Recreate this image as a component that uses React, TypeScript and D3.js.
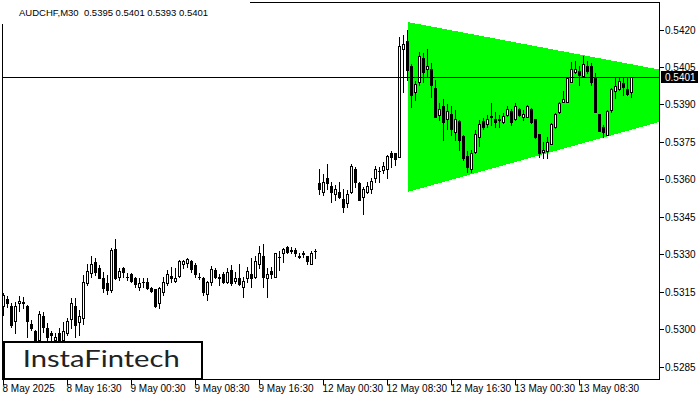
import React from "react";
import * as d3 from "d3";

const symbolName = "AUDCHF,M30";
const headerOhlc = ["0.5395", "0.5401", "0.5393", "0.5401"];
const timeLabels = ["8 May 2025", "8 May 16:30", "9 May 00:30", "9 May 08:30", "9 May 16:30", "12 May 00:30", "12 May 08:30", "12 May 16:30", "13 May 00:30", "13 May 08:30"];
const timeLabelBars = [0, 16, 32, 48, 64, 80, 96, 112, 128, 144];
const priceTicks = [0.5285, 0.53, 0.5315, 0.533, 0.5345, 0.536, 0.5375, 0.539, 0.5405, 0.542];
const bidPrice = 0.5401;
const triangleBars = [101, 192, 101];
const trianglePrices = [0.5423, 0.53955, 0.5355];
const logoText = "InstaFintech";

const opens = [
  0.53094, 0.53122, 0.53094, 0.53034, 0.53106, 0.53106, 0.53094, 0.53022, 0.52994, 0.52958,
  0.53054, 0.53006, 0.52986, 0.52958, 0.52986, 0.52958, 0.52986, 0.53042, 0.53094, 0.53030,
  0.53046, 0.53186, 0.53226, 0.53270, 0.53246, 0.53206, 0.53186, 0.53158, 0.53322, 0.53210,
  0.53246, 0.53210, 0.53222, 0.53206, 0.53170, 0.53190, 0.53190, 0.53166, 0.53162, 0.53106,
  0.53150, 0.53186, 0.53214, 0.53194, 0.53214, 0.53262, 0.53266, 0.53274, 0.53258, 0.53210,
  0.53206, 0.53142, 0.53190, 0.53238, 0.53208, 0.53222, 0.53190, 0.53238, 0.53194, 0.53206,
  0.53170, 0.53206, 0.53222, 0.53210, 0.53262, 0.53294, 0.53206, 0.53234, 0.53210, 0.53290,
  0.53306, 0.53330, 0.53318, 0.53318, 0.53294, 0.53306, 0.53294, 0.53262, 0.53314,
  0.53586, 0.53550, 0.53606, 0.53574, 0.53542, 0.53550, 0.53522, 0.53506, 0.53550, 0.53642, 0.53586,
  0.53530, 0.53550, 0.53562, 0.53606, 0.53634, 0.53638, 0.53642, 0.53706, 0.53706, 0.53690,
  0.54122, 0.54154, 0.54054, 0.53950, 0.53990, 0.54086, 0.54042, 0.54042, 0.53966, 0.53858,
  0.53894, 0.53842, 0.53862, 0.53790, 0.53834, 0.53774, 0.53694, 0.53642, 0.53710, 0.53770,
  0.53834, 0.53822, 0.53854, 0.53842, 0.53842, 0.53830, 0.53858, 0.53874, 0.53842, 0.53882,
  0.53850, 0.53850, 0.53882, 0.53842, 0.53782, 0.53710, 0.53714, 0.53742, 0.53810, 0.53870,
  0.53910, 0.53910, 0.53990, 0.54030, 0.54034, 0.54014, 0.54054, 0.54054, 0.54006, 0.53862,
  0.53810, 0.53778, 0.53878, 0.53954, 0.53962, 0.53986, 0.53962, 0.53950,
];
const highs = [
  0.53146, 0.53134, 0.53106, 0.53110, 0.53134, 0.53130, 0.53098, 0.53038, 0.52998, 0.53074,
  0.53070, 0.53026, 0.52994, 0.52986, 0.53006, 0.53030, 0.53046, 0.53126, 0.53126, 0.53078,
  0.53218, 0.53262, 0.53294, 0.53286, 0.53258, 0.53230, 0.53218, 0.53326, 0.53362, 0.53246,
  0.53250, 0.53226, 0.53226, 0.53210, 0.53206, 0.53206, 0.53206, 0.53170, 0.53162, 0.53170,
  0.53210, 0.53238, 0.53250, 0.53246, 0.53278, 0.53278, 0.53286, 0.53278, 0.53266, 0.53226,
  0.53210, 0.53194, 0.53254, 0.53246, 0.53222, 0.53230, 0.53246, 0.53258, 0.53230, 0.53262,
  0.53210, 0.53250, 0.53286, 0.53294, 0.53334, 0.53342, 0.53246, 0.53250, 0.53306, 0.53314,
  0.53326, 0.53334, 0.53330, 0.53326, 0.53306, 0.53314, 0.53294, 0.53314, 0.53322,
  0.53642, 0.53622, 0.53662, 0.53590, 0.53578, 0.53590, 0.53562, 0.53558, 0.53662, 0.53650, 0.53590,
  0.53570, 0.53590, 0.53606, 0.53654, 0.53650, 0.53670, 0.53698, 0.53714, 0.53706, 0.54170,
  0.54178, 0.54198, 0.54062, 0.53994, 0.54110, 0.54106, 0.54122, 0.54066, 0.53998, 0.53906,
  0.53922, 0.53902, 0.53894, 0.53878, 0.53838, 0.53778, 0.53714, 0.53718, 0.53798, 0.53838,
  0.53846, 0.53858, 0.53906, 0.53870, 0.53858, 0.53866, 0.53894, 0.53882, 0.53906, 0.53886,
  0.53878, 0.53898, 0.53886, 0.53842, 0.53782, 0.53750, 0.53770, 0.53826, 0.53866, 0.53910,
  0.53954, 0.54010, 0.54070, 0.54074, 0.54054, 0.54094, 0.54074, 0.54066, 0.54026, 0.53862,
  0.53818, 0.53878, 0.53966, 0.54006, 0.54006, 0.54006, 0.54006, 0.54010,
];
const lows = [
  0.53058, 0.53090, 0.53010, 0.52986, 0.53074, 0.53086, 0.52970, 0.52998, 0.52954, 0.52954,
  0.52990, 0.52958, 0.52958, 0.52950, 0.52950, 0.52950, 0.52978, 0.53006, 0.52970, 0.52978,
  0.53022, 0.53178, 0.53210, 0.53218, 0.53206, 0.53150, 0.53142, 0.53150, 0.53202, 0.53198,
  0.53210, 0.53198, 0.53190, 0.53170, 0.53158, 0.53170, 0.53162, 0.53150, 0.53090, 0.53086,
  0.53138, 0.53178, 0.53190, 0.53190, 0.53210, 0.53246, 0.53250, 0.53230, 0.53210, 0.53202,
  0.53138, 0.53118, 0.53178, 0.53206, 0.53178, 0.53186, 0.53186, 0.53178, 0.53186, 0.53178,
  0.53130, 0.53190, 0.53170, 0.53206, 0.53246, 0.53170, 0.53130, 0.53206, 0.53210, 0.53238,
  0.53270, 0.53306, 0.53306, 0.53294, 0.53286, 0.53290, 0.53262, 0.53262, 0.53286,
  0.53542, 0.53538, 0.53562, 0.53510, 0.53518, 0.53526, 0.53470, 0.53490, 0.53546, 0.53570, 0.53518,
  0.53462, 0.53546, 0.53546, 0.53590, 0.53590, 0.53626, 0.53606, 0.53650, 0.53658, 0.53690,
  0.53950, 0.53998, 0.53890, 0.53918, 0.53978, 0.53990, 0.54014, 0.53930, 0.53850, 0.53838,
  0.53758, 0.53802, 0.53778, 0.53758, 0.53718, 0.53678, 0.53630, 0.53630, 0.53706, 0.53734,
  0.53802, 0.53810, 0.53818, 0.53810, 0.53810, 0.53826, 0.53854, 0.53818, 0.53838, 0.53854,
  0.53838, 0.53850, 0.53826, 0.53766, 0.53690, 0.53686, 0.53686, 0.53742, 0.53806, 0.53866,
  0.53910, 0.53910, 0.53990, 0.54026, 0.53978, 0.54010, 0.54026, 0.53978, 0.53870, 0.53794,
  0.53770, 0.53778, 0.53870, 0.53926, 0.53958, 0.53938, 0.53938, 0.53930,
];
const closes = [
  0.53138, 0.53106, 0.53018, 0.53094, 0.53114, 0.53110, 0.53034, 0.53006, 0.52958, 0.53062,
  0.53010, 0.52970, 0.52978, 0.52970, 0.52958, 0.52994, 0.53034, 0.53106, 0.53018, 0.53054,
  0.53190, 0.53234, 0.53262, 0.53230, 0.53206, 0.53166, 0.53158, 0.53318, 0.53206, 0.53234,
  0.53230, 0.53208, 0.53194, 0.53182, 0.53186, 0.53188, 0.53166, 0.53154, 0.53094, 0.53166,
  0.53190, 0.53222, 0.53206, 0.53206, 0.53274, 0.53274, 0.53282, 0.53242, 0.53222, 0.53208,
  0.53150, 0.53190, 0.53242, 0.53210, 0.53210, 0.53190, 0.53230, 0.53186, 0.53206, 0.53182,
  0.53194, 0.53234, 0.53206, 0.53274, 0.53306, 0.53210, 0.53222, 0.53222, 0.53306, 0.53288,
  0.53322, 0.53310, 0.53316, 0.53306, 0.53292, 0.53304, 0.53274, 0.53306, 0.53312,
  0.53562, 0.53590, 0.53586, 0.53550, 0.53562, 0.53530, 0.53490, 0.53542, 0.53654, 0.53590, 0.53518,
  0.53562, 0.53574, 0.53594, 0.53642, 0.53632, 0.53654, 0.53694, 0.53690, 0.53682, 0.54134,
  0.54142, 0.54038, 0.53938, 0.53982, 0.54094, 0.54030, 0.54054, 0.53978, 0.53850, 0.53882,
  0.53830, 0.53874, 0.53802, 0.53842, 0.53758, 0.53686, 0.53650, 0.53706, 0.53782, 0.53822,
  0.53810, 0.53842, 0.53852, 0.53830, 0.53840, 0.53854, 0.53882, 0.53830, 0.53894, 0.53858,
  0.53862, 0.53894, 0.53830, 0.53770, 0.53706, 0.53718, 0.53750, 0.53822, 0.53862, 0.53906,
  0.53922, 0.54006, 0.54042, 0.54042, 0.54018, 0.54062, 0.54034, 0.53990, 0.53870, 0.53794,
  0.53790, 0.53874, 0.53962, 0.53974, 0.53994, 0.53970, 0.53942, 0.54010,
];

const W = 700;
const H = 400;
const FONT = "'Liberation Sans', Arial, sans-serif";

export default function App() {
  const plotL = 2.5, plotT = 2.5, plotR = 659.5, plotB = 379.5;
  const x = d3.scaleLinear().domain([0, 100]).range([3.5, 403.5]);
  const y = d3.scaleLinear().domain([0.5285, 0.542]).range([367, 29.5]);
  const fmt = d3.format(".4f");

  const triPoints = triangleBars.map((b, k) => `${x(b)},${y(trianglePrices[k])}`).join(" ");

  const candles = opens.map((o, i) => {
    const c = closes[i];
    const col = Math.floor(x(i));
    const yH = Math.round(y(highs[i]));
    const yL = Math.round(y(lows[i]));
    const yTop = Math.round(y(Math.max(o, c)));
    const yBot = Math.round(y(Math.min(o, c)));
    const bull = c > o;
    return (
      <g key={i}>
        <line x1={col + 0.5} x2={col + 0.5} y1={yH} y2={yL + 1} stroke="#000" strokeWidth={1} />
        {bull ? (
          <rect x={col - 0.5} y={yTop + 0.5} width={2} height={Math.max(1, yBot - yTop)} fill="#fff" stroke="#000" strokeWidth={1} />
        ) : (
          <rect x={col - 1} y={yTop} width={3} height={Math.max(1, yBot - yTop + 1)} fill="#000" />
        )}
      </g>
    );
  });

  const yBid = Math.round(y(bidPrice)) + 0.5;

  return (
    <svg width={W} height={H} style={{ position: "fixed", left: 0, top: 0, background: "#fff" }} shapeRendering="crispEdges">
      <defs>
        <clipPath id="plotClip">
          <rect x={plotL + 0.5} y={plotT + 0.5} width={plotR - plotL - 1} height={plotB - plotT - 1} />
        </clipPath>
      </defs>
      <rect x={0} y={0} width={W} height={H} fill="#fff" />
      <g clipPath="url(#plotClip)">
        <polygon points={triPoints} fill="#00ff00" />
        {candles}
        <line x1={plotL} x2={plotR} y1={yBid} y2={yBid} stroke="#000" strokeWidth={1} />
      </g>
      <rect x={plotL} y={plotT} width={plotR - plotL} height={plotB - plotT} fill="none" stroke="#000" strokeWidth={1} />
      <rect x={0} y={0} width={250} height={24} fill="#fff" />
      <text x={19} y={16} fontFamily={FONT} fontSize={9.5} fill="#000" xmlSpace="preserve" style={{ whiteSpace: "pre" }} shapeRendering="auto">
        {symbolName + "  " + headerOhlc.join(" ")}
      </text>
      {priceTicks.map((p) => {
        const yy = Math.round(y(p)) + 0.5;
        return (
          <g key={p}>
            <line x1={plotR} x2={plotR + 4} y1={yy} y2={yy} stroke="#000" />
            <text x={665} y={yy} dy="0.35em" fontFamily={FONT} fontSize={10} fill="#000">{fmt(p)}</text>
          </g>
        );
      })}
      <rect x={661} y={yBid - 6.5} width={37} height={12} fill="#000" />
      <text x={665} y={yBid} dy="0.35em" fontFamily={FONT} fontSize={10} fill="#fff">{fmt(bidPrice)}</text>
      {timeLabelBars.map((b, k) => {
        const xx = Math.floor(x(b)) + 0.5;
        return (
          <g key={b}>
            <line x1={xx} x2={xx} y1={plotB} y2={plotB + 5} stroke="#000" />
            <text x={xx - 1} y={392} fontFamily={FONT} fontSize={10} fill="#000">{timeLabels[k]}</text>
          </g>
        );
      })}
      <rect x={3.7} y={341.7} width={198} height={37} fill="#fff" stroke="#000" strokeWidth={2} />
      <text x={22.7} y={367.3} fontFamily="Lato, 'Open Sans', sans-serif" fontSize={23} fill="#222" textLength={157} lengthAdjust="spacingAndGlyphs" shapeRendering="auto">{logoText}</text>
    </svg>
  );
}
